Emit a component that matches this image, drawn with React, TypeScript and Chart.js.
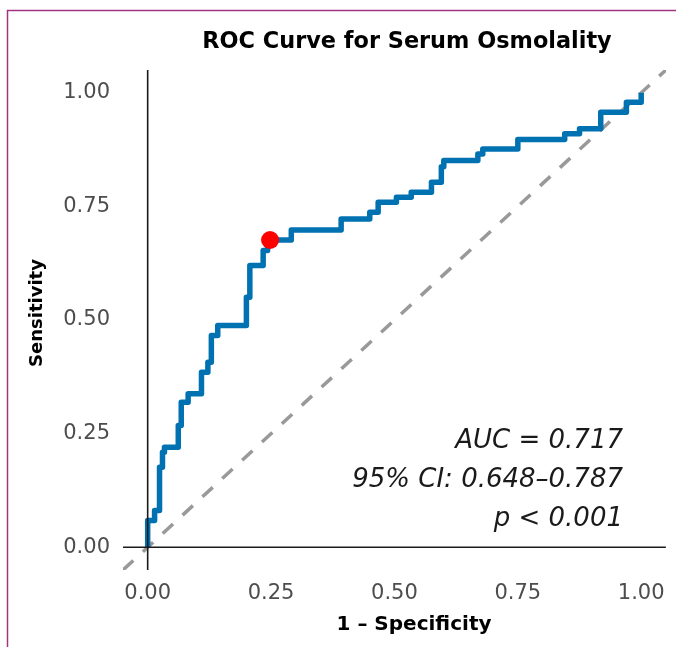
import React, { useEffect, useRef } from "react";
import { Chart, registerables } from "chart.js";

Chart.register(...registerables);

// ROC step vertices: (1 - specificity, sensitivity)
const fpr = [0, 0, 0.014, 0.024, 0.030, 0.034, 0.062, 0.068, 0.082, 0.109, 0.122, 0.129, 0.142, 0.200, 0.207, 0.234, 0.243, 0.291, 0.392, 0.450, 0.467, 0.504, 0.534, 0.575, 0.595, 0.600, 0.669, 0.679, 0.750, 0.845, 0.875, 0.918, 0.970, 1.0];
const tpr = [0, 0.059, 0.081, 0.176, 0.209, 0.220, 0.268, 0.319, 0.338, 0.385, 0.407, 0.466, 0.488, 0.550, 0.620, 0.653, 0.676, 0.698, 0.722, 0.737, 0.759, 0.770, 0.781, 0.803, 0.837, 0.851, 0.865, 0.876, 0.897, 0.910, 0.921, 0.957, 0.979, 1.0];

const optimalPoint = { x: 0.248, y: 0.676 };
const axisMin = -0.05;
const axisMax = 1.05;
const xTicks = [0, 0.25, 0.5, 0.75, 1.0];
const yTicks = [0, 0.25, 0.5, 0.75, 1.0];

const titleText = "ROC Curve for Serum Osmolality";
const xTitle = "1 \u2013 Specificity";
const yTitle = "Sensitivity";
const annotationLines = ["AUC = 0.717", "95% CI: 0.648\u20130.787", "p < 0.001"];

const FONT = "'DejaVu Sans', sans-serif";

const textPlugin = {
  id: "textPlugin",
  beforeDraw(chart: any) {
    const ctx = chart.ctx;
    ctx.save();
    ctx.fillStyle = "#ffffff";
    ctx.fillRect(0, 0, chart.width, chart.height);
    // frame lines
    ctx.strokeStyle = "#a2347f";
    ctx.lineWidth = 1.5;
    ctx.beginPath();
    ctx.moveTo(7.5, chart.height + 2);
    ctx.lineTo(7.5, 10.5);
    ctx.lineTo(chart.width + 2, 10.5);
    ctx.stroke();
    ctx.restore();
  },
  afterDraw(chart: any) {
    const ctx = chart.ctx;
    ctx.save();
    ctx.textBaseline = "middle";
    // title
    ctx.fillStyle = "#000000";
    ctx.font = `bold 22.4px ${FONT}`;
    ctx.textAlign = "center";
    ctx.fillText(titleText, 407, 42);
    // x axis title
    ctx.font = `bold 20px ${FONT}`;
    ctx.fillText(xTitle, 414, 625);
    // y axis title
    ctx.save();
    ctx.translate(37, 313);
    ctx.rotate(-Math.PI / 2);
    ctx.font = `bold 18px ${FONT}`;
    ctx.fillText(yTitle, 0, 0);
    ctx.restore();
    // annotation
    ctx.font = `italic 26px ${FONT}`;
    ctx.fillStyle = "#1a1a1a";
    ctx.textAlign = "right";
    annotationLines.forEach((t, i) => {
      ctx.fillText(t, 623, 441 + i * 39);
    });
    ctx.restore();
  },
};

export default function App() {
  const ref = useRef<HTMLCanvasElement | null>(null);

  useEffect(() => {
    if (!ref.current) return;
    const curve = fpr.map((x, i) => ({ x, y: tpr[i] }));
    const chart = new Chart(ref.current, {
      type: "line",
      data: {
        datasets: [
          {
            label: "optimal",
            data: [optimalPoint],
            showLine: false,
            pointRadius: 9,
            pointBackgroundColor: "#ff0000",
            pointBorderWidth: 0,
            borderColor: "#ff0000",
          },
          {
            label: "vline",
            data: [
              { x: 0, y: axisMin },
              { x: 0, y: axisMax },
            ],
            borderColor: "#1a1a1a",
            borderWidth: 1.6,
            pointRadius: 0,
          },
          {
            label: "hline",
            data: [
              { x: axisMin, y: 0 },
              { x: axisMax, y: 0 },
            ],
            borderColor: "#1a1a1a",
            borderWidth: 1.6,
            pointRadius: 0,
          },
          {
            label: "ROC",
            data: curve,
            stepped: "before",
            borderColor: "#0072b2",
            borderWidth: 5.5,
            borderJoinStyle: "round",
            pointRadius: 0,
          },
          {
            label: "reference",
            data: [
              { x: axisMin, y: axisMin },
              { x: axisMax, y: axisMax },
            ],
            borderColor: "#999999",
            borderWidth: 3.5,
            borderDash: [14, 13],
            pointRadius: 0,
          },
        ],
      },
      options: {
        animation: false,
        responsive: false,
        maintainAspectRatio: false,
        devicePixelRatio: 1,
        layout: { padding: { top: 70, right: 9, left: 0, bottom: 0 } },
        plugins: {
          legend: { display: false },
          tooltip: { enabled: false },
          title: { display: false },
        },
        scales: {
          x: {
            type: "linear",
            min: axisMin,
            max: axisMax,
            grid: { display: false, drawTicks: false },
            border: { display: false },
            afterBuildTicks: (s: any) => {
              s.ticks = xTicks.map((v) => ({ value: v }));
            },
            afterFit: (s: any) => {
              s.height = 77;
            },
            ticks: {
              autoSkip: false,
              maxRotation: 0,
              padding: 11,
              color: "#4d4d4d",
              font: { family: FONT, size: 21 },
              callback: (v: any) => Number(v).toFixed(2),
            },
          },
          y: {
            type: "linear",
            min: axisMin,
            max: axisMax,
            grid: { display: false, drawTicks: false },
            border: { display: false },
            afterBuildTicks: (s: any) => {
              s.ticks = yTicks.map((v) => ({ value: v }));
            },
            afterFit: (s: any) => {
              s.width = 123;
            },
            ticks: {
              autoSkip: false,
              padding: 13,
              color: "#4d4d4d",
              font: { family: FONT, size: 21 },
              callback: (v: any) => Number(v).toFixed(2),
            },
          },
        },
      } as any,
      plugins: [textPlugin],
    });
    return () => chart.destroy();
  }, []);

  return (
    <div style={{ position: "fixed", left: 0, top: 0, width: 676, height: 647, background: "#fff" }}>
      <canvas ref={ref} width={676} height={647} style={{ width: 676, height: 647, display: "block" }} />
    </div>
  );
}
